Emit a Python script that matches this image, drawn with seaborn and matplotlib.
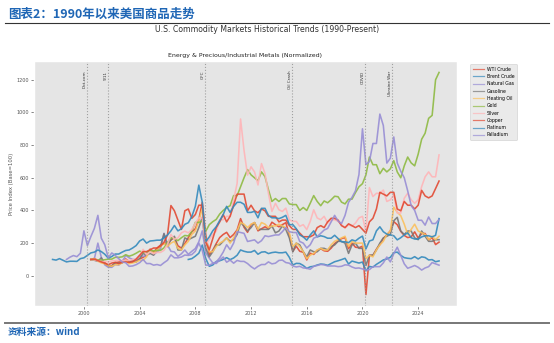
import pandas as pd
import matplotlib
matplotlib.use("Agg")
import matplotlib.pyplot as plt
import matplotlib.dates as mdates
from matplotlib.lines import Line2D
import seaborn as sns

# ---------------- data (normalized, base = 100), quarterly samples ----------------
SERIES = ["WTI Crude", "Brent Crude", "Natural Gas", "Gasoline", "Heating Oil",
          "Gold", "Silver", "Copper", "Platinum", "Palladium"]
COLORS = ["#E24A33", "#348ABD", "#988ED5", "#777777", "#FBC15E",
          "#8EBA42", "#FFB5B8", "#E24A33", "#348ABD", "#988ED5"]
START = {"WTI Crude": "2000-07-01", "Brent Crude": "2007-07-01", "Natural Gas": "2000-07-01",
         "Gasoline": "2000-07-01", "Heating Oil": "2000-07-01", "Gold": "2000-07-01",
         "Silver": "2000-07-01", "Copper": "2000-07-01", "Platinum": "1997-10-01",
         "Palladium": "1998-10-01"}

wti = [100, 106,
       94, 84, 81, 62, 62, 81, 84, 91, 103, 88, 94, 94, 103, 113, 125, 163,
       144, 169, 188, 197, 203, 219, 234, 184, 169, 197, 234, 269, 288, 344, 450, 250,
       130, 156, 197, 234, 253, 266, 234, 253, 281, 350, 297, 266, 313, 325, 275, 288,
       300, 288, 328, 313, 300, 313, 325, 250, 150, 181, 150, 144, 97, 138, 131, 156,
       166, 153, 150, 169, 197, 213, 228, 234, 166, 200, 175, 172, 181, -115, 125, 125,
       163, 191, 228, 250, 275, 331, 313, 272, 247, 234, 238, 269, 231, 259, 259, 219,
       234, 191, 206]
brent = [100, 105,
         120, 138, 188, 105, 58, 66, 87, 92, 100, 111, 99, 109, 126, 158, 150, 145,
         145, 155, 132, 145, 147, 136, 142, 145, 141, 141, 145, 113, 66, 76, 75, 63,
         45, 55, 58, 66, 72, 70, 64, 75, 86, 92, 99, 107, 72, 90, 84, 78,
         84, 30, 57, 53, 70, 83, 97, 103, 113, 141, 145, 125, 111, 107, 105, 117,
         103, 116, 112, 97, 99, 86, 91]
natgas = [100, 104,
          200, 113, 67, 52, 52, 69, 65, 85, 125, 110, 100, 98, 125, 119, 125, 158,
          129, 146, 163, 260, 188, 150, 146, 119, 135, 158, 131, 150, 167, 208, 275, 140,
          108, 79, 75, 96, 115, 83, 96, 77, 94, 88, 88, 75, 56, 42, 58, 69,
          69, 85, 73, 77, 94, 96, 81, 77, 60, 54, 58, 48, 46, 40, 58, 63,
          69, 67, 60, 60, 60, 56, 58, 67, 65, 54, 46, 48, 42, 35, 38, 56,
          56, 56, 79, 115, 85, 135, 175, 125, 73, 46, 54, 63, 52, 35, 48, 56,
          81, 73, 65]
gasoline = [100, 95,
            89, 110, 74, 63, 58, 79, 79, 79, 95, 84, 89, 84, 105, 137, 126, 137,
            126, 158, 179, 258, 179, 221, 242, 158, 158, 232, 221, 232, 242, 295, 358, 168,
            116, 147, 189, 189, 211, 232, 211, 221, 253, 326, 305, 274, 295, 326, 284, 284,
            284, 284, 305, 263, 274, 305, 284, 232, 147, 200, 189, 147, 116, 158, 147, 147,
            168, 168, 158, 179, 189, 211, 211, 200, 137, 189, 200, 168, 168, 63, 126, 126,
            158, 200, 232, 242, 253, 337, 358, 274, 253, 274, 274, 232, 221, 274, 242, 211,
            211, 221, 221]
heating_oil = [100, 105,
               89, 79, 74, 63, 58, 68, 68, 79, 95, 74, 79, 84, 95, 95, 116, 158,
               137, 158, 179, 200, 179, 200, 211, 168, 158, 189, 211, 253, 274, 337, 410, 221,
               147, 147, 179, 200, 211, 232, 200, 232, 274, 326, 316, 295, 316, 326, 284, 326,
               316, 295, 305, 305, 316, 305, 295, 263, 179, 200, 179, 147, 105, 126, 137, 158,
               168, 158, 158, 189, 211, 221, 232, 242, 179, 211, 200, 200, 200, 105, 126, 116,
               158, 189, 211, 253, 274, 420, 389, 368, 316, 253, 284, 316, 274, 263, 253, 221,
               242, 221, 242]
gold = [100, 98,
        98, 95, 98, 102, 102, 113, 113, 116, 129, 120, 127, 138, 151, 142, 145, 153,
        153, 155, 155, 171, 204, 233, 229, 215, 233, 247, 244, 273, 327, 327, 335, 273,
        313, 331, 345, 378, 400, 418, 429, 491, 491, 545, 600, 650, 618, 600, 582, 636,
        607, 527, 455, 473, 455, 473, 473, 440, 436, 436, 400, 418, 400, 444, 491, 455,
        429, 458, 447, 465, 487, 484, 451, 440, 469, 469, 509, 545, 564, 618, 727, 680,
        680, 625, 658, 636, 655, 705, 636, 600, 673, 727, 691, 673, 745, 836, 873, 964,
        982, 1200, 1245]
silver = [100, 97,
          93, 87, 87, 85, 91, 93, 95, 91, 97, 93, 99, 103, 125, 162, 129, 147,
          135, 143, 143, 156, 192, 253, 224, 232, 263, 273, 263, 283, 323, 354, 354, 192,
          222, 253, 273, 343, 343, 364, 364, 465, 566, 960, 768, 616, 667, 636, 556, 687,
          626, 505, 394, 444, 404, 394, 414, 343, 333, 333, 303, 313, 283, 333, 404, 354,
          343, 364, 323, 343, 343, 333, 313, 293, 313, 303, 323, 354, 364, 270, 540, 485,
          505, 505, 525, 455, 465, 495, 384, 384, 475, 505, 465, 444, 465, 546, 606, 636,
          606, 606, 740]
copper = [100, 102,
          93, 85, 77, 68, 78, 82, 75, 82, 85, 82, 85, 102, 125, 148, 148, 159,
          170, 170, 182, 205, 250, 430, 398, 341, 284, 398, 409, 352, 375, 432, 432, 205,
          159, 227, 295, 330, 375, 330, 364, 432, 500, 500, 500, 398, 432, 398, 386, 409,
          398, 364, 364, 364, 330, 341, 341, 307, 284, 284, 261, 239, 239, 239, 250, 295,
          307, 295, 330, 352, 352, 341, 307, 295, 318, 307, 295, 307, 284, 261, 330, 352,
          409, 511, 500, 489, 511, 511, 409, 398, 455, 432, 432, 409, 432, 523, 489, 477,
          489, 534, 580]
platinum = [100,
            96, 105, 95, 85, 89, 89, 88, 105, 110, 125, 140, 145, 158, 148, 132, 108,
            118, 133, 133, 145, 155, 158, 170, 185, 213, 225, 200, 213, 215, 218, 218, 233,
            250, 275, 308, 275, 288, 315, 325, 363, 425, 555, 450, 210, 238, 275, 300, 338,
            375, 425, 388, 425, 450, 450, 438, 388, 388, 395, 355, 413, 413, 370, 355, 355,
            350, 358, 370, 313, 313, 288, 250, 238, 218, 250, 275, 238, 245, 240, 230, 230,
            248, 228, 208, 208, 203, 220, 213, 230, 243, 165, 213, 220, 275, 300, 270, 255,
            250, 245, 220, 233, 250, 263, 233, 225, 225, 238, 245, 245, 238, 248, 350]
palladium = [100,
             114, 124, 117, 138, 275, 185, 240, 290, 370, 230, 190, 110, 140, 125, 105, 85,
             80, 58, 60, 68, 80, 100, 75, 75, 65, 69, 63, 80, 95, 128, 110, 110,
             115, 127, 125, 130, 150, 200, 155, 65, 65, 75, 85, 110, 145, 190, 160, 200,
             270, 265, 260, 210, 215, 220, 200, 215, 245, 240, 245, 250, 250, 270, 295, 270,
             265, 265, 210, 200, 170, 190, 230, 240, 260, 280, 290, 330, 370, 335, 320, 370,
             450, 480, 520, 620, 900, 680, 700, 810, 810, 990, 920, 690, 720, 850, 690, 640,
             600, 520, 430, 400, 340, 340, 310, 360, 320, 320, 345]

VALUES = {"WTI Crude": wti, "Brent Crude": brent, "Natural Gas": natgas,
          "Gasoline": gasoline, "Heating Oil": heating_oil, "Gold": gold,
          "Silver": silver, "Copper": copper, "Platinum": platinum, "Palladium": palladium}

EVENT_LABELS = ["Dot-com", "9/11", "GFC", "Oil Crash", "COVID", "Ukraine War"]
EVENT_DATES = ["2000-03-10", "2001-09-11", "2008-09-15", "2014-11-27", "2020-03-11", "2022-02-24"]

# ---------------- build long-form table ----------------
frames = []
for name in SERIES:
    vals = VALUES[name]
    d = pd.date_range(START[name], periods=len(vals), freq="3MS")
    frames.append(pd.DataFrame({"Date": d, "Value": vals, "Series": name}))
df = pd.concat(frames, ignore_index=True)

# ---------------- plot ----------------
plt.style.use("ggplot")
W, H = 554, 343
fig = plt.figure(figsize=(W / 100, H / 100), dpi=100, facecolor="white")
ax = fig.add_axes([34 / W, 1 - 306 / H, (457 - 34) / W, (306 - 61) / H])

sns.lineplot(data=df, x="Date", y="Value", hue="Series", hue_order=SERIES,
             palette=COLORS, linewidth=1.15, alpha=0.9, ax=ax, legend=True)

for lab, dt in zip(EVENT_LABELS, EVENT_DATES):
    t = pd.Timestamp(dt)
    ax.axvline(t, color="#999999", linestyle=":", linewidth=0.8, alpha=0.9)
    ax.text(t, 1255, lab, rotation=90, va="top", ha="right", fontsize=3.0, color="#333333")

ax.set_xlim(pd.Timestamp("1996-06-01"), pd.Timestamp("2026-10-15"))
ax.set_ylim(-185, 1315)
ax.xaxis.set_major_locator(mdates.YearLocator(4))
ax.xaxis.set_major_formatter(mdates.DateFormatter("%Y"))
ax.set_yticks([0, 200, 400, 600, 800, 1000, 1200])
ax.tick_params(axis="both", labelsize=3.5, length=2, width=0.5, pad=1.5, colors="#555555")
ax.grid(False)
ax.set_xlabel("")
ax.set_ylabel("Price Index (Base=100)", fontsize=3.8, labelpad=2, color="#555555")
ax.set_title("Energy & Precious/Industrial Metals (Normalized)", fontsize=4.5, pad=3, color="#222222")

handles, labels = ax.get_legend_handles_labels()
leg = ax.legend(handles, labels, loc="upper left", bbox_to_anchor=(1.025, 0.997),
                fontsize=3.3, frameon=True, handlelength=2.4, borderpad=0.6,
                labelspacing=0.5, handletextpad=0.7)
for h in leg.get_lines():
    h.set_linewidth(0.9)
    h.set_alpha(0.7)

# ---------------- report header / footer ----------------
cjk = ["Noto Sans CJK SC", "DejaVu Sans"]
fig.text(8 / W, 1 - 14 / H, "图表2：1990年以来美国商品走势", fontsize=9, fontweight="bold",
         color="#1F66B5", family=cjk, ha="left", va="center")
fig.add_artist(Line2D([5 / W, 549 / W], [1 - 22.5 / H] * 2, color="#333333", lw=0.8,
                      transform=fig.transFigure))
fig.text(0.482, 1 - 29 / H, "U.S. Commodity Markets Historical Trends (1990-Present)",
         fontsize=5.6, color="#333333", ha="center", va="center")
fig.add_artist(Line2D([5 / W, 549 / W], [1 - 323 / H] * 2, color="#777777", lw=1.4,
                      transform=fig.transFigure))
fig.text(8 / W, 1 - 332 / H, "资料来源：wind", fontsize=7, fontweight="bold",
         color="#1F66B5", family=cjk, ha="left", va="center")

fig.savefig("out.png", dpi=100, facecolor="white")
